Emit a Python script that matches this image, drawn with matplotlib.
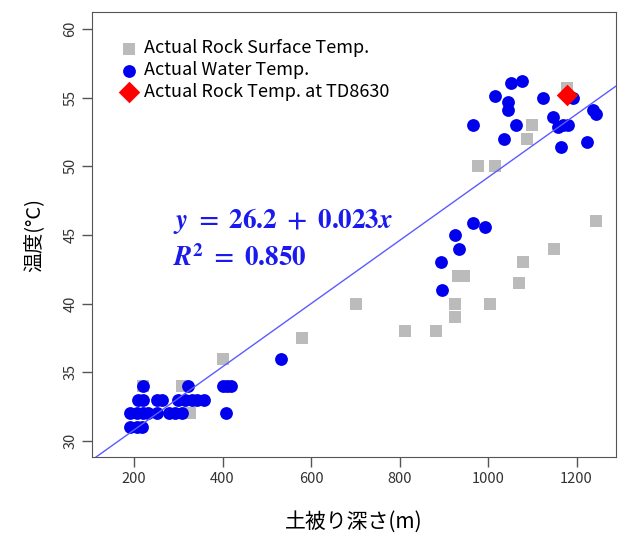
import matplotlib
matplotlib.use("Agg")
import matplotlib.pyplot as plt

plt.rcParams["font.family"] = ["Noto Sans CJK JP", "DejaVu Sans"]
plt.rcParams["mathtext.fontset"] = "stix"

# 実測 岩盤表面温度 (灰色の四角)
rock_x = [221, 308, 327, 400, 579, 702, 812, 882, 925, 925, 933, 945, 1004,
          1071, 1080, 1150, 1244, 977, 1016, 1087, 1100, 1178]
rock_y = [34, 34, 32, 36, 37.5, 40, 38, 38, 40, 39, 42, 42, 40,
          41.5, 43, 44, 46, 50, 50, 52, 53, 55.7]

# 実測 湧水温度 (青丸)
water_x = [191, 206, 217,
           191, 206, 221, 232, 251, 278, 293, 308, 408,
           210, 221, 251, 263, 300, 315, 330, 342, 357,
           221, 323, 400, 410, 420,
           531, 895, 893, 935, 925, 993, 965,
           1051, 1076, 1016, 1044, 1044, 1125, 1193, 965, 1063, 1146,
           1157, 1170, 1181, 1035, 1164, 1223, 1237, 1244]
water_y = [31, 31, 31,
           32, 32, 32, 32, 32, 32, 32, 32, 32,
           33, 33, 33, 33, 33, 33, 33, 33, 33,
           34, 34, 34, 34, 34,
           36, 41, 43, 44, 45, 45.6, 45.85,
           56.05, 56.2, 55.1, 54.7, 54.1, 55, 55, 53, 53, 53.6,
           52.9, 53, 53, 52, 51.4, 51.8, 54.1, 53.8]

# TD8630 の岩盤温度 (赤ひし形)
td_x = [1179]
td_y = [55.2]

# 回帰式 y = a + b x
a, b = 26.2, 0.023

fig = plt.figure(figsize=(6.19, 5.38), dpi=100)
ax = fig.add_axes([0.1486, 0.1506, 0.8465, 0.827])

ax.scatter(rock_x, rock_y, marker="s", s=75, color="#bbbbbb", lw=0,
           label="Actual Rock Surface Temp.", zorder=2)
ax.scatter(water_x, water_y, marker="o", s=85, color="#0000ee", lw=0,
           label="Actual Water Temp.", zorder=3)
ax.scatter(td_x, td_y, marker="D", s=120, color="#ff0000", lw=0,
           label="Actual Rock Temp. at TD8630", zorder=4)
ax.axline((0, a), slope=b, color="#5b5bff", lw=1, zorder=5)

ax.set_xlim(105, 1289)
ax.set_ylim(28.83, 61.24)
ax.set_xticks([200, 400, 600, 800, 1000, 1200])
ax.set_yticks([30, 35, 40, 45, 50, 55, 60])
ax.tick_params(length=7, width=1, color="#555555", labelcolor="#333333",
               labelsize=10.5)
for lab in ax.get_yticklabels():
    lab.set_rotation(90)
    lab.set_va("center")
for sp in ax.spines.values():
    sp.set_color("#555555")

ax.set_xlabel("土被り深さ(m)", fontsize=15, labelpad=18)
ax.set_ylabel("温度(°C)", fontsize=14.5, labelpad=14)

ax.legend(loc="upper left", frameon=False, fontsize=13, handletextpad=0.15,
          labelspacing=0.22, borderaxespad=0, bbox_to_anchor=(0.032, 0.955),
          handlelength=1.4)

eq1 = r"$\boldsymbol{y}\ \mathbf{=\ 26.2\ +\ 0.023}\boldsymbol{x}$"
eq2 = r"$\boldsymbol{R}^{\mathbf{2}}\ \mathbf{=\ 0.850}$"
ax.text(0.155, 0.515, eq1, transform=ax.transAxes, color="#1a1aee", fontsize=19.5)
ax.text(0.155, 0.43, eq2, transform=ax.transAxes, color="#1a1aee", fontsize=19.5)

fig.savefig("out.png", dpi=100)
